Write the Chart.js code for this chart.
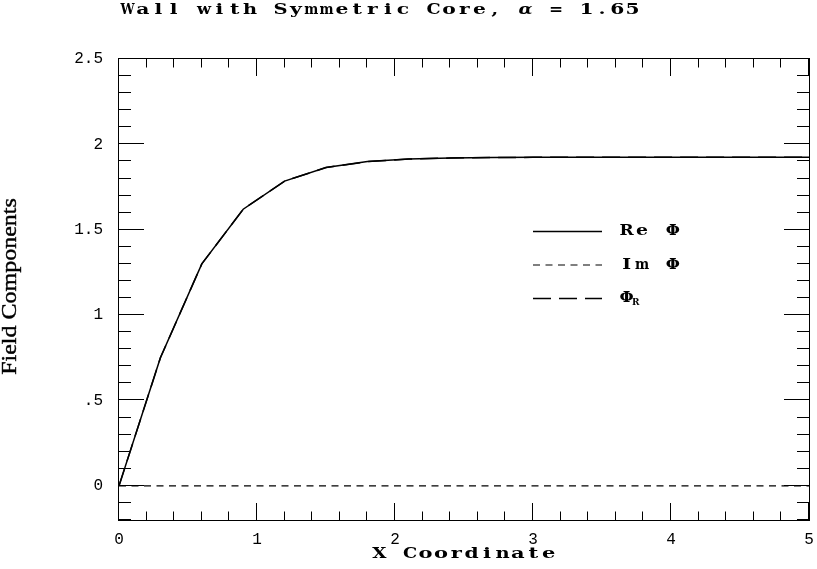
<!DOCTYPE html>
<html>
<head>
<meta charset="utf-8">
<script src="https://cdn.jsdelivr.net/npm/chart.js@4.4.1/dist/chart.umd.min.js"></script>
<style>
  html, body { margin: 0; padding: 0; background: #fff; }
</style>
</head>
<body>
<canvas id="chart" width="817" height="569"></canvas>
<script>
// values
const xValues = [0, 0.3, 0.6, 0.9, 1.2, 1.5, 1.8, 2.1, 2.4, 2.7, 3.0, 3.3, 3.6, 3.9, 4.2, 4.5, 4.8, 5.0];
const reValues = [0, 0.75, 1.30, 1.62, 1.785, 1.864, 1.899, 1.914, 1.920, 1.923, 1.924, 1.925, 1.925, 1.925, 1.925, 1.925, 1.925, 1.925];
const imValues = [0, 0, 0, 0, 0, 0, 0, 0, 0, 0, 0, 0, 0, 0, 0, 0, 0, 0];
const phiRValues = [0, 0.75, 1.30, 1.62, 1.785, 1.864, 1.899, 1.914, 1.920, 1.923, 1.924, 1.925, 1.925, 1.925, 1.925, 1.925, 1.925, 1.925];

const seriesLabels = ['Re Φ', 'Im Φ', 'Φ_R'];

const xTickValues = [0, 1, 2, 3, 4, 5];
const xTickLabels = ['0', '1', '2', '3', '4', '5'];
const yTickValues = [0, 0.5, 1, 1.5, 2, 2.5];
const yTickLabels = ['0', '.5', '1', '1.5', '2', '2.5'];

const titleText = 'Wall with Symmetric Core, α = 1.65';
const xAxisTitle = 'X Coordinate';
const yAxisTitle = 'Field Components';

const MONO = '"Liberation Mono", "Courier New", monospace';
const SLAB = '"DejaVu Serif", "Liberation Serif", serif';
const SERIF = '"Liberation Serif", "Times New Roman", serif';

function toPoints(values) {
    return xValues.map((x, i) => ({ x: x, y: values[i] }));
}

// draw text one glyph per fixed cell, glyphs stretched sideways like the old plotter font
function spacedText(ctx, text, x, y, cell, size, sx) {
    ctx.textAlign = 'center';
    ctx.textBaseline = 'alphabetic';
    for (let i = 0; i < text.length; i++) {
        const ch = text[i];
        ctx.save();
        ctx.font = (ch === 'α' ? 'italic bold ' : 'bold ') + size + 'px ' + SLAB;
        const w = ctx.measureText(ch).width;
        const s = w > 0 ? Math.min(sx, cell * 0.92 / w) : sx;
        ctx.translate(x + cell * i + cell / 2, y);
        ctx.scale(s, 1);
        ctx.fillText(ch, 0, 0);
        ctx.restore();
    }
}

const framePlugin = {
    id: 'frame',
    afterDraw(chart) {
        const ctx = chart.ctx;
        const { left, right, top, bottom } = chart.chartArea;
        const xs = chart.scales.x;
        const ys = chart.scales.y;
        ctx.save();
        ctx.strokeStyle = '#000';
        ctx.lineWidth = 1;

        ctx.strokeRect(left - 0.5, top - 0.5, right - left + 1, bottom - top + 1);

        ctx.beginPath();
        // x ticks, minor every 0.2, major every 1
        const nx = Math.round((xs.max - xs.min) / 0.2);
        for (let i = 0; i <= nx; i++) {
            const v = xs.min + i * 0.2;
            const px = Math.round(xs.getPixelForValue(v)) - 0.5;
            const len = (i % 5 === 0) ? 17 : 8.5;
            ctx.moveTo(px, bottom); ctx.lineTo(px, bottom - len);
            ctx.moveTo(px, top); ctx.lineTo(px, top + len);
        }
        // y ticks, minor every 0.1, major every 0.5
        const ny = Math.round((ys.max - ys.min) / 0.1);
        for (let i = 0; i <= ny; i++) {
            const v = ys.min + i * 0.1;
            const py = Math.round(ys.getPixelForValue(v)) - 0.5;
            const major = Math.abs(v * 2 - Math.round(v * 2)) < 1e-6;
            const len = major ? 25 : 12;
            ctx.moveTo(left, py); ctx.lineTo(left + len, py);
            ctx.moveTo(right, py); ctx.lineTo(right - len, py);
        }
        ctx.stroke();

        ctx.fillStyle = '#000';
        // title
        spacedText(ctx, titleText, 120, 14, 15.3, 14, 1.45);
        // x axis title
        const cx = (left + right) / 2;
        spacedText(ctx, xAxisTitle, cx - xAxisTitle.length * 15.4 / 2, 558, 15.4, 15, 1.4);

        // y axis title, rotated, stretched a bit along the baseline
        ctx.save();
        ctx.translate(16, (top + bottom) / 2 - 3);
        ctx.rotate(-Math.PI / 2);
        ctx.scale(1.2, 1);
        ctx.font = '20px ' + SERIF;
        ctx.textAlign = 'center';
        ctx.textBaseline = 'alphabetic';
        ctx.lineWidth = 0.4;
        ctx.fillText(yAxisTitle, 0, 0);
        ctx.strokeText(yAxisTitle, 0, 0);
        ctx.restore();

        // legend
        const lx0 = 533, lx1 = 602, tx = 619;
        const rows = [231, 264.5, 298];
        chart.data.datasets.forEach((ds, i) => {
            const y = rows[i];
            ctx.save();
            ctx.strokeStyle = ds.borderColor;
            ctx.lineWidth = ds.borderWidth;
            ctx.setLineDash(ds.borderDash || []);
            ctx.beginPath();
            ctx.moveTo(lx0, y + 0.5);
            ctx.lineTo(lx1, y + 0.5);
            ctx.stroke();
            ctx.restore();

            const parts = ds.label.split('_');
            spacedText(ctx, parts[0], tx, y + 4, 15.4, 14, 1.35);
            if (parts[1]) {
                ctx.font = 'bold 9px ' + SLAB;
                ctx.textAlign = 'left';
                ctx.fillText(parts[1], tx + 13, y + 7);
            }
        });
        ctx.restore();
    }
};

const ctx = document.getElementById('chart').getContext('2d');
new Chart(ctx, {
    type: 'line',
    data: {
        datasets: [
            {
                label: seriesLabels[0],
                data: toPoints(reValues),
                borderColor: '#000',
                borderWidth: 1.5,
                borderDash: [],
                pointRadius: 0,
                tension: 0,
                fill: false,
            },
            {
                label: seriesLabels[1],
                data: toPoints(imValues),
                borderColor: '#000',
                borderWidth: 1.2,
                borderDash: [7, 5.5],
                pointRadius: 0,
                tension: 0,
                fill: false,
            },
            {
                label: seriesLabels[2],
                data: toPoints(phiRValues),
                borderColor: '#000',
                borderWidth: 1.5,
                borderDash: [18, 8],
                pointRadius: 0,
                tension: 0,
                fill: false,
            },
        ]
    },
    options: {
        responsive: false,
        animation: false,
        devicePixelRatio: 1,
        layout: { padding: { left: 0, right: 8, top: 59, bottom: 0 } },
        plugins: {
            legend: { display: false },
            title: { display: false },
            tooltip: { enabled: false },
        },
        scales: {
            x: {
                type: 'linear',
                min: 0,
                max: 5,
                grid: { display: false, drawTicks: false },
                border: { display: false },
                afterBuildTicks: (scale) => {
                    scale.ticks = xTickValues.map(v => ({ value: v }));
                },
                afterFit: (scale) => {
                    scale.height = 49;
                    scale.paddingLeft = 0;
                    scale.paddingRight = 0;
                },
                ticks: {
                    padding: 10,
                    color: '#000',
                    font: { family: MONO, size: 16 },
                    maxRotation: 0,
                    callback: (value) => xTickLabels[xTickValues.indexOf(value)],
                },
            },
            y: {
                type: 'linear',
                min: -0.2,
                max: 2.5,
                grid: { display: false, drawTicks: false },
                border: { display: false },
                afterBuildTicks: (scale) => {
                    scale.ticks = yTickValues.map(v => ({ value: v }));
                },
                afterFit: (scale) => {
                    scale.width = 119;
                    scale.paddingTop = 0;
                    scale.paddingBottom = 0;
                },
                ticks: {
                    padding: 16,
                    color: '#000',
                    font: { family: MONO, size: 16 },
                    callback: (value) => yTickLabels[yTickValues.indexOf(value)],
                },
            },
        },
    },
    plugins: [framePlugin],
});
</script>
</body>
</html>
